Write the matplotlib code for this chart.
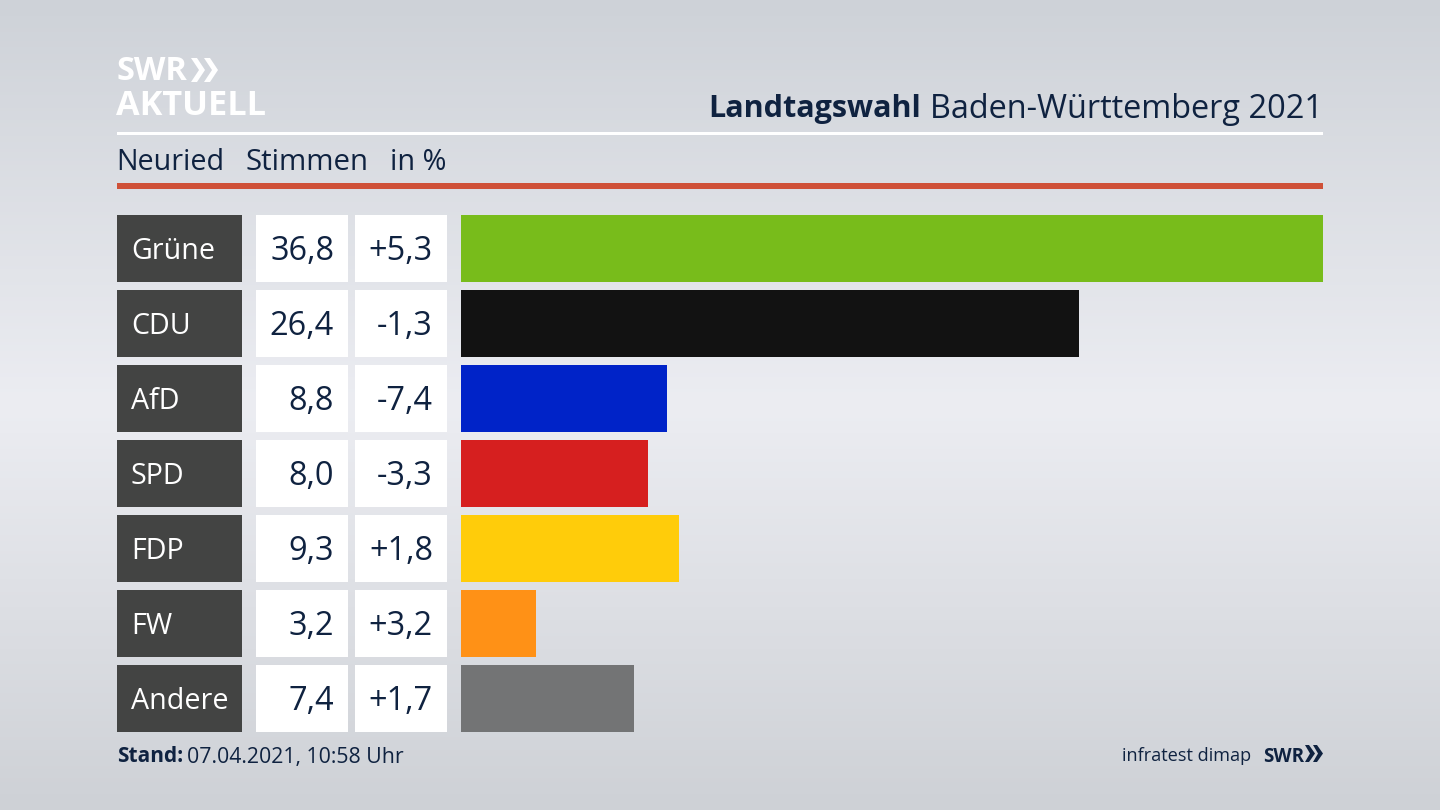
import numpy as np
import matplotlib
matplotlib.use("Agg")
import matplotlib.pyplot as plt
from matplotlib.patches import Rectangle, Polygon

plt.rcParams["font.family"] = ["Open Sans", "DejaVu Sans"]

parties = ["Grüne", "CDU", "AfD", "SPD", "FDP", "FW", "Andere"]
votes = [36.8, 26.4, 8.8, 8.0, 9.3, 3.2, 7.4]
votes_text = ["36,8", "26,4", "8,8", "8,0", "9,3", "3,2", "7,4"]
change_text = ["+5,3", "-1,3", "-7,4", "-3,3", "+1,8", "+3,2", "+1,7"]
colors = ["#78bc1b", "#121212", "#0023c8", "#d61f1f", "#ffcc0a", "#ff9116", "#737475"]

NAVY = "#0f2240"

fig = plt.figure(figsize=(14.4, 8.1), dpi=100)

# background in pixel coords
bg = fig.add_axes([0, 0, 1, 1])
bg.set_xlim(0, 1440)
bg.set_ylim(810, 0)
bg.axis("off")
yy = np.array([0.0, 0.5, 1.0])
shade = np.array([[206, 210, 216], [236, 237, 242], [206, 209, 214]]) / 255
grad = np.stack([np.interp(np.linspace(0, 1, 256), yy, shade[:, i]) for i in range(3)], axis=1)
bg.imshow(grad[:, None, :], extent=[0, 1440, 810, 0], aspect="auto", zorder=0)

# header
bg.text(117, 72, "SWR", fontsize=23.5, fontweight="bold", color="white", va="center", family="Open Sans")
bg.text(116, 106, "AKTUELL", fontsize=24.7, fontweight="bold", color="white", va="center", family="Open Sans")
for x0 in (191, 204):
    bg.add_patch(Polygon([(x0, 58), (x0 + 6, 58), (x0 + 14, 70), (x0 + 6, 82), (x0, 82), (x0 + 8, 70)],
                         facecolor="white", lw=0))

t2 = bg.text(1323, 109, "Baden-Württemberg 2021", fontsize=23.4, color=NAVY, ha="right", va="center")
fig.canvas.draw()
x_left = bg.transData.inverted().transform(t2.get_window_extent().min)[0]
bg.text(x_left - 9, 109, "Landtagswahl", fontsize=22, fontweight="bold", color=NAVY, ha="right", va="center")
bg.add_patch(Rectangle((117, 132), 1206, 3, facecolor="white", lw=0))
bg.text(116, 163, "Neuried", fontsize=20.6, color=NAVY, va="center")
bg.text(245.5, 163, "Stimmen", fontsize=21.2, color=NAVY, va="center")
bg.text(390, 163, "in %", fontsize=20.8, color=NAVY, va="center")
bg.add_patch(Rectangle((117, 183), 1206, 6, facecolor="#cf5138", lw=0))

# table cells and bars
tops = [215, 290, 365, 440, 515, 590, 665]
h = 66.5
for i, top in enumerate(tops):
    bg.add_patch(Rectangle((117, top), 125, h, facecolor="#434443", lw=0))
    bg.add_patch(Rectangle((256, top), 92, h, facecolor="white", lw=0))
    bg.add_patch(Rectangle((355, top), 92, h, facecolor="white", lw=0))
    yc = top + h / 2 + 3
    bg.text(131, yc, parties[i], fontsize=20.6, color="white", va="center")
    bg.text(334, yc, votes_text[i], fontsize=23.4, color=NAVY, va="center", ha="right")
    bg.text(433, yc, change_text[i], fontsize=23.4, color=NAVY, va="center", ha="right")

ax = fig.add_axes([461 / 1440, 1 - 731.5 / 810, (1323 - 461) / 1440, (731.5 - 215) / 810])
ax.patch.set_alpha(0)
bar_h = 66.5 / 74.9
ax.barh(range(len(votes)), votes, height=bar_h, color=colors)
ax.set_xlim(0, max(votes))
ax.set_ylim(6 + bar_h / 2, -bar_h / 2)
ax.axis("off")

# footer
bg.text(117, 757, "Stand:", fontsize=15, fontweight="bold", color=NAVY, va="center")
bg.text(187, 757, "07.04.2021, 10:58 Uhr", fontsize=15.3, color=NAVY, va="center")
bg.text(1122, 756, "infratest dimap", fontsize=13.1, color=NAVY, va="center")
bg.text(1263, 756.5, "SWR", fontsize=13.6, fontweight="bold", color=NAVY, va="center")
for x0 in (1305, 1313):
    bg.add_patch(Polygon([(x0, 745), (x0 + 4, 745), (x0 + 10, 753.5), (x0 + 4, 762), (x0, 762), (x0 + 5, 753.5)],
                         facecolor=NAVY, lw=0))

fig.savefig("out.png", dpi=100)
